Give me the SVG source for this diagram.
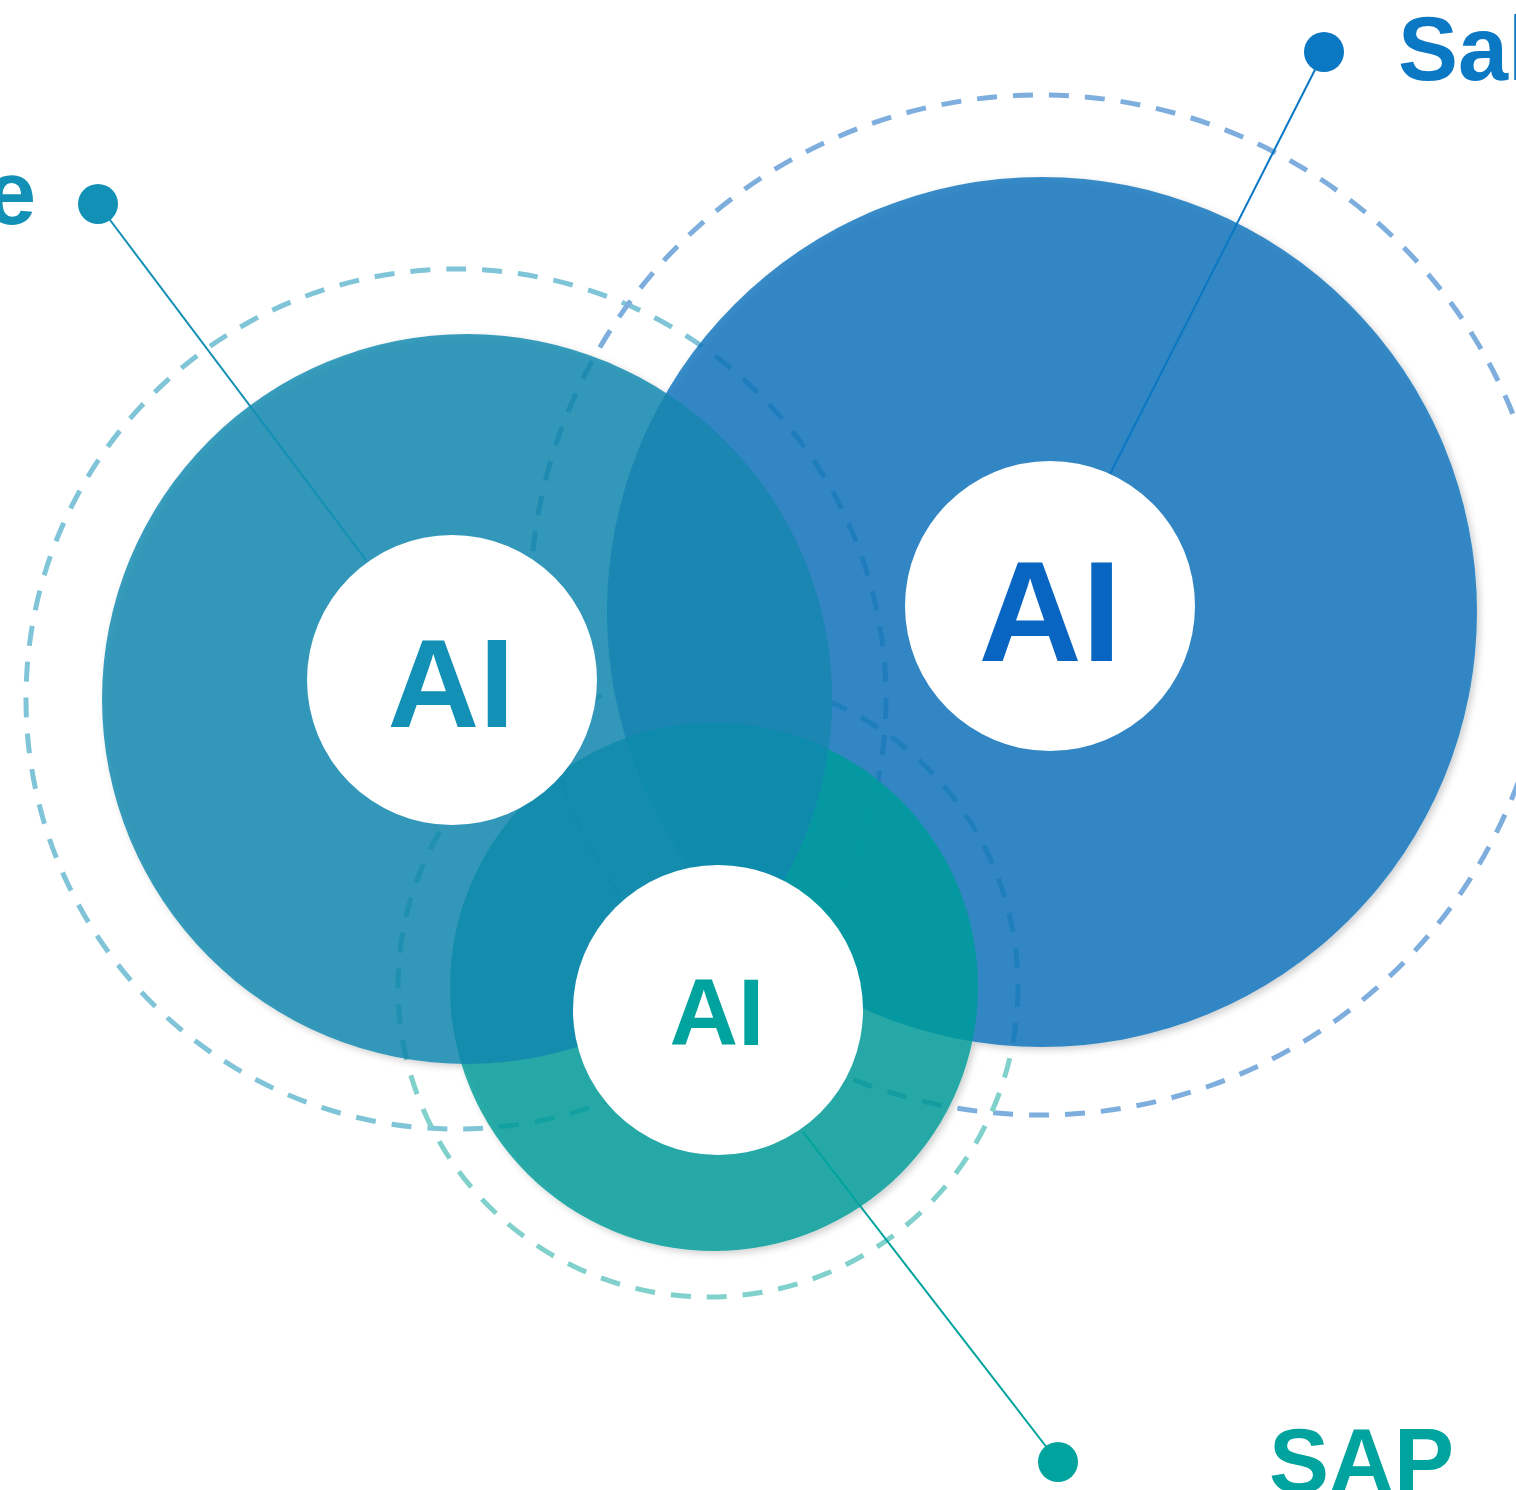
<svg xmlns="http://www.w3.org/2000/svg" width="1516" height="1490" viewBox="0 0 1516 1490">
<style>
.ring{fill:none;stroke-width:5;stroke-dasharray:20 16}
.blob{opacity:0.82}
.hole{fill:#ffffff}
.ai{font-family:"Liberation Sans",Arial,sans-serif;font-weight:bold;text-anchor:middle}
.lbl{font-family:"Liberation Sans",Arial,sans-serif;font-weight:bold;font-size:90px}
.conn{stroke-width:2;fill:none}
</style>
<defs>
<filter id="sh" x="-10%" y="-10%" width="125%" height="125%">
<feDropShadow dx="3" dy="3" stdDeviation="3.5" flood-color="#000" flood-opacity="0.22"/>
</filter>
</defs>
<rect width="1516" height="1490" fill="#ffffff"/>
<g id="rings">
<circle class="ring" cx="456" cy="699" r="430" stroke="#80c4d8"/>
<circle class="ring" cx="1040" cy="605" r="510" stroke="#7eaedd"/>
<circle class="ring" cx="708" cy="987" r="310" stroke="#80d0cc"/>
</g>
<g id="blobs" filter="url(#sh)">
<circle class="blob" cx="1042" cy="612" r="435" fill="#0e74bc"/>
<circle class="blob" cx="714" cy="987" r="264" fill="#039c9a"/>
<circle class="blob" cx="467" cy="699" r="365" fill="#1488ae"/>
</g>
<g id="connectors">
<line class="conn" x1="98" y1="204" x2="366" y2="560" stroke="#1390b5"/>
<circle cx="98" cy="204" r="20" fill="#1390b5"/>
<line class="conn" x1="1324" y1="52" x2="1110" y2="474" stroke="#0a78c3"/>
<circle cx="1324" cy="52" r="20" fill="#0a78c3"/>
<line class="conn" x1="803" y1="1132" x2="1058" y2="1462" stroke="#00a39d"/>
<circle cx="1058" cy="1462" r="20" fill="#00a39d"/>
</g>
<g id="node-left">
<circle class="hole" cx="452" cy="680" r="145"/>
<text class="ai" x="451" y="727" font-size="127" fill="#1390b5">AI</text>
</g>
<g id="node-right">
<circle class="hole" cx="1050" cy="606" r="145"/>
<text class="ai" x="1050" y="661" font-size="143" fill="#0866c2">AI</text>
</g>
<g id="node-bottom">
<circle class="hole" cx="718" cy="1010" r="145"/>
<text class="ai" x="717" y="1045" font-size="95" fill="#00a39d">AI</text>
</g>
<g id="label-left">
<text class="lbl" x="36" y="224" text-anchor="end" fill="#1390b5">e</text>
</g>
<g id="label-right">
<text class="lbl" x="1398" y="80" fill="#0a78c3">Sal</text>
</g>
<g id="label-bottom">
<text class="lbl" x="1269" y="1492" font-size="83" fill="#00a39d">SAP</text>
</g>
</svg>
